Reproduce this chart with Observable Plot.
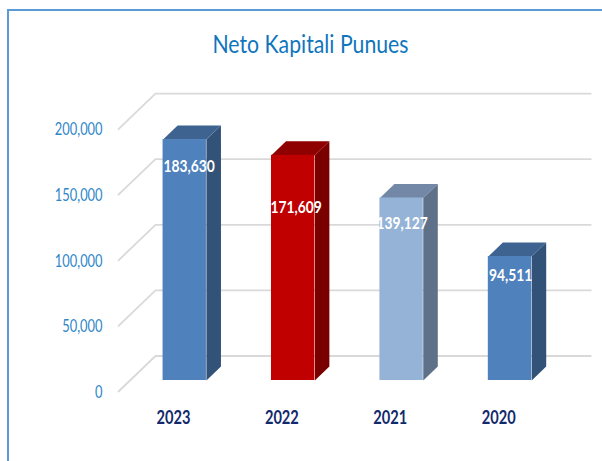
<!DOCTYPE html>
<html>
<head>
<meta charset="utf-8">
<script src="https://cdn.jsdelivr.net/npm/d3@7"></script>
<script src="https://cdn.jsdelivr.net/npm/@observablehq/plot@0.6"></script>
<style>
html,body{margin:0;padding:0;background:#fff;overflow:hidden}
#frame{position:absolute;left:7px;top:9px;right:0;bottom:0;border-left:2.5px solid #5b9bd5;border-top:2.5px solid #5b9bd5}
#title{position:absolute;left:0;top:28px;width:621px;text-align:center;font:25px Lato,sans-serif;color:#0f75bd;transform:scaleX(.85)}
#chart{position:absolute;left:0;top:0}
#chart svg{display:block;background:transparent}
</style>
</head>
<body>
<div id="frame"></div>
<div id="title">Neto Kapitali Punues</div>
<div id="chart"></div>
<script>
const years = ["2023", "2022", "2021", "2020"];
const values = [183630, 171609, 139127, 94511];
const ticks = [0, 50000, 100000, 150000, 200000];
const frontColors = ["#4f81bd", "#c00000", "#95b3d7", "#4f81bd"];
const topColors = ["#3f6391", "#8f0000", "#7288a6", "#3f6391"];
const sideColors = ["#325278", "#7a0000", "#5f7189", "#325278"];

// 3-D projection, in scale units
const halfWidth = 0.2, depthX = 0.134, depthY = 10670;
const floorBack = 18670, floorFront = -8384;
const gridX0 = -0.611, gridX1 = -0.27, gridX2 = 3.745;
const labelDrop = [20900, 39700, 19700, 14400];
const labelShift = [0.04, 0.027, 0.005, 0.006];

const bars = years.map((year, i) => ({year, i, value: values[i], front: frontColors[i], top: topColors[i], side: sideColors[i]}));
const sideFaces = bars.flatMap(b => {
  const l = b.i + halfWidth, r = l + depthX;
  return [[l, 0], [r, depthY], [r, b.value + depthY], [l, b.value]].map(([x, y]) => ({x, y, key: b.year, fill: b.side}));
});
const topFaces = bars.flatMap(b => {
  const l = b.i - halfWidth, r = b.i + halfWidth;
  return [[l, b.value], [l + depthX, b.value + depthY], [r + depthX, b.value + depthY], [r, b.value]].map(([x, y]) => ({x, y, key: b.year, fill: b.top}));
});
const gridLines = ticks.flatMap(t => [[gridX0, t + floorFront], [gridX1, t + floorBack], [gridX2, t + floorBack]].map(([x, y]) => ({x, y, t})));

// narrow the text horizontally around each label's own anchor
const narrow = k => (index, scales, values, dims, context, next) => {
  const g = next(index, scales, values, dims, context);
  g.querySelectorAll("text").forEach(t => t.setAttribute("transform", ((t.getAttribute("transform") || "") + ` scale(${k},1)`).trim()));
  return g;
};

const chart = Plot.plot({
  width: 602, height: 461,
  marginLeft: 102, marginRight: 0, marginTop: 0, marginBottom: 81,
  x: {domain: [0, 3], range: [184.25, 509.5], axis: null},
  y: {domain: [0, 200000], range: [380, 117.6], axis: null},
  style: {background: "transparent", fontFamily: "Lato, sans-serif"},
  marks: [
    Plot.line(gridLines, {x: "x", y: "y", z: "t", stroke: "#d9d9d9", strokeWidth: 1.8}),
    Plot.axisY({ticks, tickSize: 0, tickPadding: 0, dy: 12, tickFormat: d3.format(","), label: null, fontSize: 16.5, fill: "#2e86c8", render: narrow(0.78)}),
    Plot.axisX({ticks: [0, 1, 2, 3], tickSize: 0, tickPadding: 0, tickFormat: i => years[i], label: null, anchor: "bottom", dx: -11.3, dy: 30, fontSize: 19, fontWeight: 700, fill: "#12296b", render: narrow(0.77)}),
    Plot.line(sideFaces, {x: "x", y: "y", z: "key", fill: "fill", stroke: null}),
    Plot.line(topFaces, {x: "x", y: "y", z: "key", fill: "fill", stroke: null}),
    Plot.rect(bars, {x1: b => b.i - halfWidth, x2: b => b.i + halfWidth, y1: 0, y2: "value", fill: "front"}),
    Plot.text(bars, {x: b => b.i + labelShift[b.i], y: b => b.value - labelDrop[b.i], text: b => d3.format(",")(b.value), fill: "white", fontSize: 16.5, fontWeight: 700, render: narrow(0.84)})
  ]
});
document.getElementById("chart").append(chart);
</script>
</body>
</html>
